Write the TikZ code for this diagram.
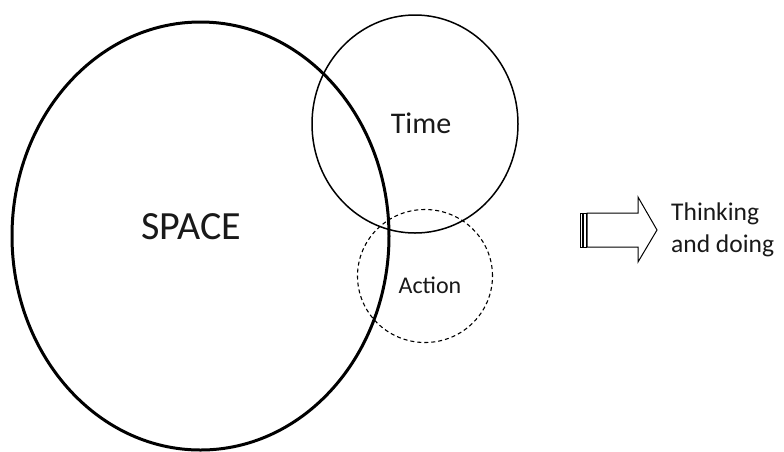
\documentclass[tikz,border=0pt]{standalone}
\usepackage{fontspec}
\setmainfont{Carlito}
\usetikzlibrary{shapes.geometric}
\begin{document}
\begin{tikzpicture}[x=1pt,y=-1pt,
  lbl/.style={inner sep=0pt, text=black!90},
  ring/.style={ellipse, draw, inner sep=0pt}]
\useasboundingbox (0,0) rectangle (784,451);
\fill[white] (0,0) rectangle (784,451);
% Space
\node[ring, line width=3pt, minimum width=377pt, minimum height=428pt] (space) at (200.5,236) {};
\node[lbl, font=\fontsize{40}{44}\selectfont] (spacet) at (191,227) {SPACE};
% Time
\node[ring, line width=1.5pt, minimum width=206pt, minimum height=218pt] (time) at (415,124) {};
\node[lbl, font=\fontsize{30}{34}\selectfont] (timet) at (421,123) {Time};
% Action
\node[ring, line width=1.1pt, dashed, dash pattern=on 4pt off 3pt, minimum width=135pt, minimum height=133pt] (action) at (425,276) {};
\node[lbl, font=\fontsize{24}{28}\selectfont] (actiont) at (430,285) {Action};
% arrow
\draw[line width=1pt, line join=miter] (587,213) -- (638,213) -- (638,197) -- (657,230) -- (638,262) -- (638,247) -- (587,247) -- cycle;
\draw[line width=0.9pt] (580,213) rectangle (582.5,247);
\draw[line width=0.9pt] (583.5,213) rectangle (586,247);
\node[lbl, align=left, anchor=north west, font=\fontsize{25.5}{32}\selectfont] (think) at (671,203) {Thinking\\and doing};
\end{tikzpicture}
\end{document}
